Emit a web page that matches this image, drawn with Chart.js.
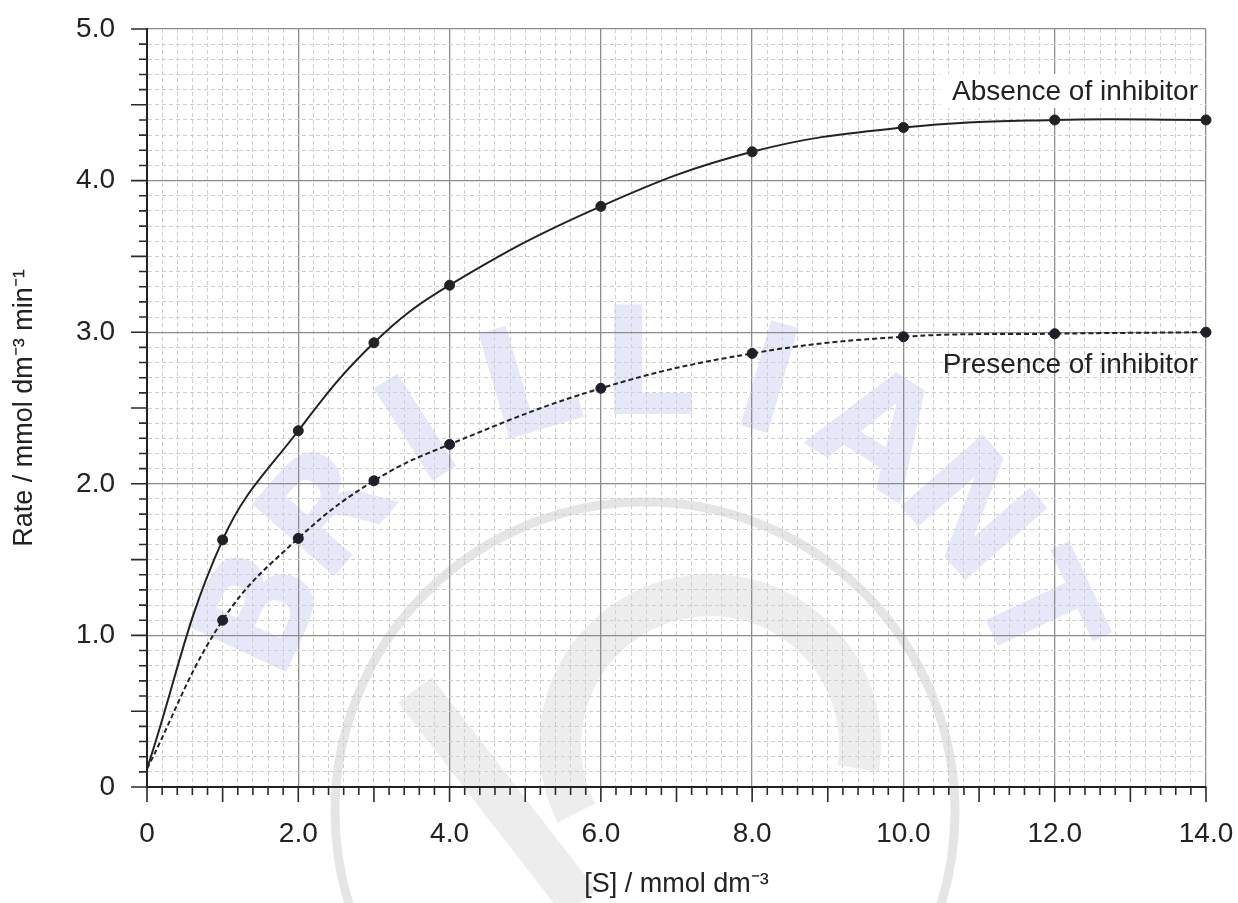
<!DOCTYPE html>
<html>
<head>
<meta charset="utf-8">
<script src="https://cdn.jsdelivr.net/npm/chart.js@4.4.1/dist/chart.umd.min.js"></script>
<style>
body { margin: 0; background: #fff; }
#wrap { width: 1238px; height: 903px; position: relative; }
</style>
</head>
<body>
<div id="wrap"><canvas id="rateChart"></canvas></div>
<script>
// values
const concentration = [0, 1, 2, 3, 4, 6, 8, 10, 12, 14];
const rateAbsence = [0.12, 1.63, 2.35, 2.93, 3.31, 3.83, 4.19, 4.35, 4.40, 4.40];
const ratePresence = [0.12, 1.10, 1.64, 2.02, 2.26, 2.63, 2.86, 2.97, 2.99, 3.00];
const xTickLabels = ['0', '2.0', '4.0', '6.0', '8.0', '10.0', '12.0', '14.0'];
const yTickLabels = ['0', '1.0', '2.0', '3.0', '4.0', '5.0'];
const seriesNames = ['Absence of inhibitor', 'Presence of inhibitor'];

const FONT = '"Liberation Sans", Arial, sans-serif';
const near = (v, step) => Math.abs(v / step - Math.round(v / step)) < 1e-6;
const toPoints = ys => concentration.map((x, i) => ({ x: x, y: ys[i] }));

// faint "BRILLIANT" watermark behind everything
const watermark = {
    id: 'watermark',
    beforeDraw(chart) {
        const c = chart.ctx;
        c.save();
        c.fillStyle = '#fff';
        c.fillRect(0, 0, chart.width, chart.height);

        c.strokeStyle = 'rgba(0,0,0,0.1)';
        c.lineWidth = 9;
        c.beginPath();
        c.arc(645, 812, 310, 0, Math.PI * 2);
        c.stroke();

        c.strokeStyle = 'rgba(0,0,0,0.07)';
        c.lineWidth = 42;
        c.beginPath();
        c.arc(710, 745, 150, Math.PI * 0.85, Math.PI * 2.05);
        c.stroke();
        c.beginPath();
        c.moveTo(415, 690);
        c.lineTo(580, 903);
        c.stroke();

        const word = 'BRILLIANT';
        c.font = 'bold 150px "DejaVu Sans"';
        c.fillStyle = 'rgba(200,205,245,0.45)';
        c.textAlign = 'center';
        c.textBaseline = 'middle';
        for (let i = 0; i < word.length; i++) {
            const a = (-155 + i * (130 / 8)) * Math.PI / 180;
            const x = 648 + 418 * Math.cos(a);
            const y = 793 + 418 * Math.sin(a);
            c.save();
            c.translate(x, y);
            c.rotate(a + Math.PI / 2);
            c.fillText(word[i], 0, 0);
            c.restore();
        }
        c.restore();
    }
};

// outward tick marks, long and short
const tickMarks = {
    id: 'tickMarks',
    afterDraw(chart) {
        const c = chart.ctx, xs = chart.scales.x, ys = chart.scales.y;
        c.save();
        c.strokeStyle = '#2a2a2a';
        c.lineWidth = 1.6;
        c.beginPath();
        xs.ticks.forEach(t => {
            const p = xs.getPixelForValue(t.value);
            const len = near(t.value, 1) ? 15 : 8;
            c.moveTo(p, ys.bottom);
            c.lineTo(p, ys.bottom + len);
        });
        ys.ticks.forEach(t => {
            const p = ys.getPixelForValue(t.value);
            const len = near(t.value, 0.5) ? 16 : 8;
            c.moveTo(xs.left, p);
            c.lineTo(xs.left - len, p);
        });
        c.stroke();
        c.restore();
    }
};

// curve names at the right end
const seriesLabels = {
    id: 'seriesLabels',
    afterDraw(chart) {
        const c = chart.ctx, xs = chart.scales.x, ys = chart.scales.y;
        const last = concentration.length - 1;
        const right = xs.right - 8;
        c.save();
        c.font = '28px ' + FONT;
        c.textAlign = 'right';
        c.textBaseline = 'alphabetic';

        const yA = ys.getPixelForValue(rateAbsence[last]) - 20;
        const w = c.measureText(seriesNames[0]).width;
        c.fillStyle = '#fff';
        c.fillRect(right - w - 12, yA - 26, w + 14, 34);
        c.fillStyle = '#222';
        c.fillText(seriesNames[0], right, yA);

        const yP = ys.getPixelForValue(ratePresence[last]) + 41;
        c.fillText(seriesNames[1], right, yP);
        c.restore();
    }
};

const isMajor = ctx => ctx.tick && near(ctx.tick.value, ctx.scale.axis === 'x' ? 2 : 1);
const gridColor = ctx => isMajor(ctx) ? '#8c8c8c' : '#cfcfcf';
const gridWidth = ctx => isMajor(ctx) ? 1.3 : 1;
const gridDash = ctx => (!ctx.tick || isMajor(ctx)) ? [] : [4, 3];
const noPad = s => { s.paddingTop = 0; s.paddingBottom = 0; s.paddingLeft = 0; s.paddingRight = 0; };

const ctx = document.getElementById('rateChart');
new Chart(ctx, {
    type: 'line',
    data: {
        datasets: [{
            label: seriesNames[0],
            data: toPoints(rateAbsence),
            borderColor: '#222',
            borderWidth: 2,
            backgroundColor: '#222',
            pointBackgroundColor: '#222',
            pointBorderColor: '#222',
            pointRadius: c => c.dataIndex === 0 ? 0 : 5,
            pointBorderWidth: 1,
            tension: 0.4,
            clip: false
        }, {
            label: seriesNames[1],
            data: toPoints(ratePresence),
            borderColor: '#222',
            borderWidth: 2,
            borderDash: [5, 3],
            backgroundColor: '#1f1f2a',
            pointBackgroundColor: '#1f1f2a',
            pointBorderColor: '#1f1f2a',
            pointRadius: c => c.dataIndex === 0 ? 0 : 5,
            pointBorderWidth: 1,
            tension: 0.4,
            clip: false
        }]
    },
    options: {
        responsive: true,
        maintainAspectRatio: false,
        animation: false,
        layout: { padding: { top: 29, right: 32, left: 0, bottom: 0 } },
        plugins: {
            legend: { display: false },
            tooltip: { enabled: false }
        },
        scales: {
            x: {
                type: 'linear',
                min: 0,
                max: 14,
                afterFit: s => { s.height = 116; noPad(s); },
                ticks: {
                    stepSize: 0.2,
                    autoSkip: false,
                    maxRotation: 0,
                    padding: 30,
                    color: '#222',
                    font: { family: FONT, size: 28 },
                    callback: v => near(v, 2) ? xTickLabels[Math.round(v / 2)] : ''
                },
                grid: { drawTicks: false, color: gridColor, lineWidth: gridWidth },
                border: { color: '#222', width: 2, dash: gridDash },
                title: {
                    display: true,
                    text: '[S] / mmol dm⁻³',
                    color: '#222',
                    font: { family: FONT, size: 27 },
                    padding: { top: 0, bottom: 2 }
                }
            },
            y: {
                type: 'linear',
                min: 0,
                max: 5,
                afterFit: s => { s.width = 147; noPad(s); },
                ticks: {
                    stepSize: 0.1,
                    autoSkip: false,
                    padding: 32,
                    color: '#222',
                    font: { family: FONT, size: 28 },
                    callback: v => near(v, 1) ? yTickLabels[Math.round(v)] : ''
                },
                grid: { drawTicks: false, color: gridColor, lineWidth: gridWidth },
                border: { color: '#222', width: 2, dash: gridDash },
                title: {
                    display: true,
                    text: 'Rate / mmol dm⁻³ min⁻¹',
                    color: '#222',
                    font: { family: FONT, size: 27 },
                    padding: { top: 8, bottom: 0 }
                }
            }
        }
    },
    plugins: [watermark, tickMarks, seriesLabels]
});
</script>
</body>
</html>
